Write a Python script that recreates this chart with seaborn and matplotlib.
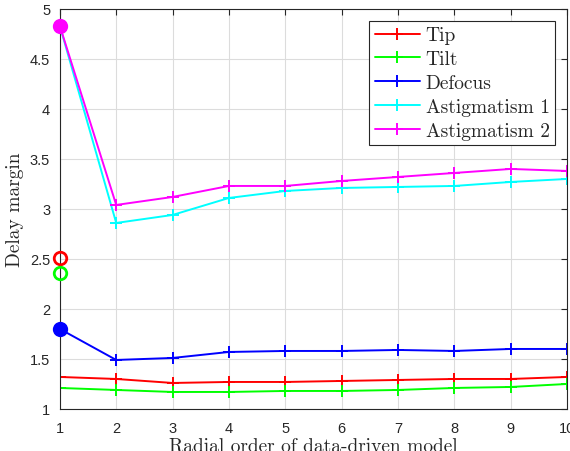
import numpy as np
import matplotlib
matplotlib.use('Agg')
import matplotlib.pyplot as plt
import seaborn as sns

# radial order of the data-driven model
orders = [1, 2, 3, 4, 5, 6, 7, 8, 9, 10]

tip = [1.32, 1.30, 1.26, 1.27, 1.27, 1.28, 1.29, 1.30, 1.30, 1.32]
tilt = [1.21, 1.19, 1.17, 1.17, 1.18, 1.18, 1.19, 1.21, 1.22, 1.25]
defocus = [1.80, 1.49, 1.51, 1.57, 1.58, 1.58, 1.59, 1.58, 1.60, 1.60]
astig1 = [4.83, 2.86, 2.94, 3.11, 3.18, 3.21, 3.22, 3.23, 3.27, 3.30]
astig2 = [4.83, 3.04, 3.12, 3.23, 3.23, 3.28, 3.32, 3.36, 3.40, 3.38]

# reference (model-based) margins at order 1
ref_names = ['Tip', 'Tilt', 'Defocus', 'Astigmatism 2']
ref_vals = [2.51, 2.36, 1.80, 4.83]
ref_filled = [False, False, True, True]

names = ['Tip', 'Tilt', 'Defocus', 'Astigmatism 1', 'Astigmatism 2']
series = [tip, tilt, defocus, astig1, astig2]
colors = {'Tip': '#ff0000', 'Tilt': '#00ff00', 'Defocus': '#0000ff',
          'Astigmatism 1': '#00ffff', 'Astigmatism 2': '#ff00ff'}

sns.set_style('white')
fig = plt.figure(figsize=(5.7, 4.52), dpi=100)
ax = fig.add_axes([0.105, 0.093, 0.89, 0.885])

for n, vals in zip(names, series):
    c = colors[n]
    sns.lineplot(x=orders, y=vals, color=c, marker='+', markersize=8,
                 markeredgewidth=1.4, markeredgecolor=c, linewidth=1.4,
                 label=n, ax=ax)

for n, v, f in zip(ref_names, ref_vals, ref_filled):
    c = colors[n]
    ax.plot([1], [v], 'o', markersize=9, markeredgewidth=2,
            markeredgecolor=c, markerfacecolor=c if f else 'none',
            clip_on=False, zorder=5)

ax.set_xlim(1, 10)
ax.set_ylim(1, 5)
ax.set_xticks(orders)
ax.set_yticks(np.arange(1, 5.01, 0.5))
ax.set_yticklabels(['1', '1.5', '2', '2.5', '3', '3.5', '4', '4.5', '5'])
ax.grid(True, color='#dcdcdc', linewidth=0.8)
ax.set_axisbelow(True)
for s in ax.spines.values():
    s.set_visible(True)
    s.set_color('#262626')
    s.set_linewidth(0.8)
ax.tick_params(direction='in', top=True, right=True, length=4,
               colors='#262626', width=0.8)
ax.tick_params(axis='x', pad=9)
ax.tick_params(axis='y', pad=7)
for lab in ax.get_xticklabels() + ax.get_yticklabels():
    lab.set_family('Liberation Sans')
    lab.set_fontsize(10.5)
    lab.set_color('#262626')

ax.set_xlabel('Radial order of data-driven model', family='cmr10',
              fontsize=14, labelpad=1)
ax.set_ylabel('Delay margin', family='cmr10', fontsize=14, labelpad=4)

leg = ax.legend(loc='upper right', prop={'family': 'cmr10', 'size': 14},
                frameon=True, fancybox=False, edgecolor='#262626',
                borderaxespad=0.6, handlelength=2.3, labelspacing=0.3,
                borderpad=0.3, handletextpad=0.3)
leg.get_frame().set_linewidth(0.8)
leg.get_frame().set_alpha(1)

fig.savefig('out.png', dpi=100)
